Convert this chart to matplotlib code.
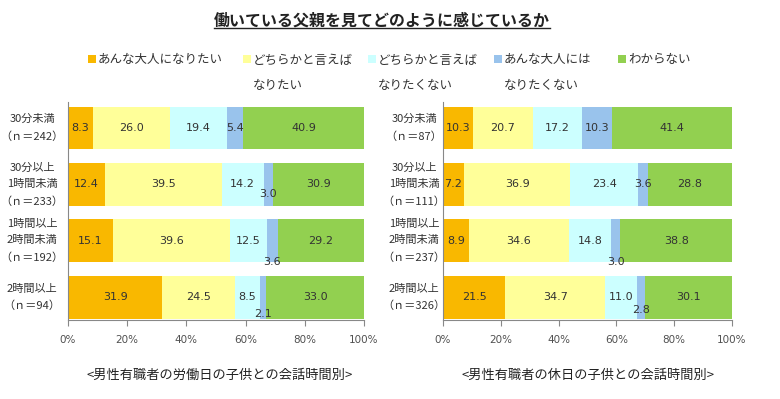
import matplotlib
matplotlib.use("Agg")
import matplotlib.pyplot as plt
from matplotlib.patches import Rectangle
import numpy as np

plt.rcParams['font.family'] = ['Noto Sans CJK JP', 'DejaVu Sans']

title = "働いている父親を見てどのように感じているか"
series_names = ["あんな大人になりたい", "どちらかと言えば\nなりたい", "どちらかと言えば\nなりたくない",
                "あんな大人には\nなりたくない", "わからない"]
colors = ["#F9B800", "#FFFF99", "#CCFFFF", "#99C3EC", "#92D050"]

left_cats = ["30分未満\n（ｎ＝242）", "30分以上\n1時間未満\n（ｎ＝233）",
             "1時間以上\n2時間未満\n（ｎ＝192）", "2時間以上\n（ｎ＝94）"]
left_vals = [
    [8.3, 26.0, 19.4, 5.4, 40.9],
    [12.4, 39.5, 14.2, 3.0, 30.9],
    [15.1, 39.6, 12.5, 3.6, 29.2],
    [31.9, 24.5, 8.5, 2.1, 33.0],
]
left_sub = "<男性有職者の労働日の子供との会話時間別>"

right_cats = ["30分未満\n（ｎ＝87）", "30分以上\n1時間未満\n（ｎ＝111）",
              "1時間以上\n2時間未満\n（ｎ＝237）", "2時間以上\n（ｎ＝326）"]
right_vals = [
    [10.3, 20.7, 17.2, 10.3, 41.4],
    [7.2, 36.9, 23.4, 3.6, 28.8],
    [8.9, 34.6, 14.8, 3.0, 38.8],
    [21.5, 34.7, 11.0, 2.8, 30.1],
]
right_sub = "<男性有職者の休日の子供との会話時間別>"

xticks = [0, 20, 40, 60, 80, 100]
xticklabels = ["0%", "20%", "40%", "60%", "80%", "100%"]

# label vertical offsets (points, downward) for narrow segments: (row, series) -> offset
left_off = {(1, 3): 7, (2, 3): 15, (3, 3): 12}
right_off = {(2, 3): 15, (3, 3): 9}

W, H = 780, 399
fig = plt.figure(figsize=(W / 100, H / 100), dpi=100)


def px_axes(x0, y0, x1, y1):
    return fig.add_axes([x0 / W, 1 - y1 / H, (x1 - x0) / W, (y1 - y0) / H])


def draw_panel(ax, cats, vals, offs, cat_x, sub, sub_x):
    n = len(cats)
    ys = np.arange(n)
    lefts = np.zeros(n)
    arr = np.array(vals)
    for j in range(arr.shape[1]):
        ax.barh(ys, arr[:, j], left=lefts, height=0.76, color=colors[j], edgecolor='none')
        for i in range(n):
            v = arr[i, j]
            cx = lefts[i] + v / 2
            off = offs.get((i, j), 0)
            ax.annotate(f"{v:.1f}", (cx, ys[i]), xytext=(0, -off), textcoords='offset points',
                        ha='center', va='center', fontsize=8, color='#333333',
                        family='DejaVu Sans')
        lefts += arr[:, j]
    ax.set_xlim(0, 100)
    ax.set_ylim(3.40, -0.46)
    ax.set_xticks(xticks)
    ax.set_xticklabels(xticklabels, fontsize=7.5, color='#505050', family='DejaVu Sans')
    ax.set_yticks([])
    for s in ['top', 'right']:
        ax.spines[s].set_visible(False)
    for s in ['left', 'bottom']:
        ax.spines[s].set_color('#888888')
        ax.spines[s].set_linewidth(0.8)
    ax.tick_params(axis='x', direction='out', length=4, color='#888888', pad=7)
    for i, c in enumerate(cats):
        y_pix = ax.transData.transform((0, ys[i]))[1]
        fig.text(cat_x / W, y_pix / H, c, ha='center', va='center', fontsize=8,
                 color='#333333', linespacing=1.8)
    fig.text(sub_x / W, 1 - 375 / H, sub, ha='center', va='center', fontsize=9.5, color='#222222')


axL = px_axes(68, 102, 364, 320)
axR = px_axes(443, 102, 732, 320)
draw_panel(axL, left_cats, left_vals, left_off, 32, left_sub, 220)
draw_panel(axR, right_cats, right_vals, right_off, 414, right_sub, 588)

# title
t = fig.text(382 / W, 1 - 21 / H, title, ha='center', va='center', fontsize=11.5,
             fontweight='bold', color='#222222')
fig.canvas.draw()
bb = t.get_window_extent()
fig.add_artist(plt.Line2D([bb.x0 / W, bb.x1 / W], [(bb.y0 + 1) / H, (bb.y0 + 1) / H],
                          transform=fig.transFigure, color='#222222', linewidth=1))

# legend
leg_x = [92, 247, 372, 498, 622]
for x, name, col in zip(leg_x, series_names, colors):
    fig.add_artist(Rectangle(((x - 4) / W, 1 - 63 / H), 8 / W, 8 / H, transform=fig.transFigure,
                             facecolor=col, edgecolor='none'))
    for k, line in enumerate(name.split("\n")):
        fig.text((x + 6) / W, 1 - (60 + 26 * k) / H, line, ha='left', va='center', fontsize=9,
                 color='#333333')

fig.savefig("out.png", dpi=100)
